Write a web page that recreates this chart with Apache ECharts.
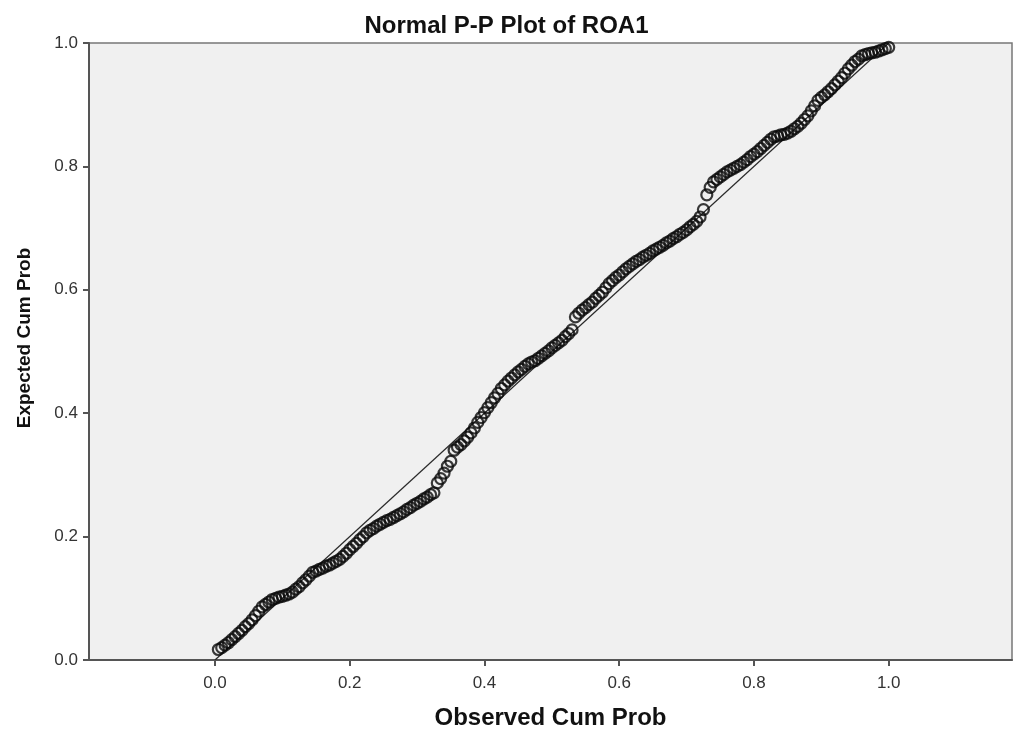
<!DOCTYPE html>
<html>
<head>
<meta charset="utf-8">
<script src="https://cdn.jsdelivr.net/npm/echarts@6/dist/echarts.min.js"></script>
<style>
html,body{margin:0;padding:0;background:#fff;}
#c{width:1013px;height:735px;}
</style>
</head>
<body>
<div id="c"></div>
<script>
var titleText = "Normal P-P Plot of ROA1";
var xName = "Observed Cum Prob";
var yName = "Expected Cum Prob";
var tickValues = [0, 0.2, 0.4, 0.6, 0.8, 1.0];

var observed = [
0.005,0.010,0.015,0.020,0.025,0.030,0.035,0.040,0.045,0.050,
0.055,0.060,0.065,0.070,0.075,0.080,0.085,0.090,0.095,0.100,
0.105,0.110,0.115,0.120,0.125,0.130,0.135,0.140,0.145,0.150,
0.155,0.160,0.165,0.170,0.175,0.180,0.185,0.190,0.195,0.200,
0.205,0.210,0.215,0.220,0.225,0.230,0.235,0.240,0.245,0.250,
0.255,0.260,0.265,0.270,0.275,0.280,0.285,0.290,0.295,0.300,
0.305,0.310,0.315,0.320,0.325,0.330,0.335,0.340,0.345,0.350,
0.355,0.360,0.365,0.370,0.375,0.380,0.385,0.390,0.395,0.400,
0.405,0.410,0.415,0.420,0.425,0.430,0.435,0.440,0.445,0.450,
0.455,0.460,0.465,0.470,0.475,0.480,0.485,0.490,0.495,0.500,
0.505,0.510,0.515,0.520,0.525,0.530,0.535,0.540,0.545,0.550,
0.555,0.560,0.565,0.570,0.575,0.580,0.585,0.590,0.595,0.600,
0.605,0.610,0.615,0.620,0.625,0.630,0.635,0.640,0.645,0.650,
0.655,0.660,0.665,0.670,0.675,0.680,0.685,0.690,0.695,0.700,
0.705,0.710,0.715,0.720,0.725,0.730,0.735,0.740,0.745,0.750,
0.755,0.760,0.765,0.770,0.775,0.780,0.785,0.790,0.795,0.800,
0.805,0.810,0.815,0.820,0.825,0.830,0.835,0.840,0.845,0.850,
0.855,0.860,0.865,0.870,0.875,0.880,0.885,0.890,0.895,0.900,
0.905,0.910,0.915,0.920,0.925,0.930,0.935,0.940,0.945,0.950,
0.955,0.960,0.965,0.970,0.975,0.980,0.985,0.990,0.995,1.000
];

var expected = [
0.017,0.020,0.024,0.028,0.033,0.038,0.043,0.048,0.054,0.059,
0.065,0.072,0.079,0.086,0.090,0.094,0.098,0.100,0.102,0.103,
0.105,0.107,0.110,0.115,0.119,0.125,0.130,0.136,0.142,0.144,
0.147,0.149,0.152,0.154,0.157,0.160,0.163,0.168,0.173,0.179,
0.184,0.189,0.195,0.200,0.206,0.210,0.213,0.217,0.220,0.223,
0.226,0.228,0.231,0.234,0.237,0.240,0.244,0.247,0.251,0.254,
0.257,0.261,0.264,0.268,0.271,0.287,0.294,0.303,0.314,0.322,
0.340,0.345,0.349,0.355,0.361,0.368,0.376,0.385,0.393,0.401,
0.409,0.417,0.425,0.432,0.440,0.446,0.452,0.457,0.462,0.467,
0.471,0.476,0.480,0.483,0.485,0.489,0.493,0.497,0.501,0.506,
0.510,0.514,0.518,0.524,0.529,0.535,0.556,0.562,0.567,0.571,
0.576,0.580,0.586,0.591,0.596,0.603,0.610,0.615,0.620,0.624,
0.629,0.634,0.638,0.642,0.646,0.649,0.653,0.656,0.659,0.663,
0.666,0.669,0.672,0.676,0.679,0.683,0.686,0.690,0.693,0.697,
0.702,0.706,0.711,0.718,0.730,0.754,0.766,0.775,0.779,0.783,
0.787,0.791,0.794,0.797,0.800,0.803,0.807,0.811,0.816,0.820,
0.824,0.829,0.834,0.839,0.844,0.848,0.849,0.851,0.852,0.854,
0.857,0.861,0.865,0.870,0.876,0.882,0.890,0.898,0.907,0.912,
0.916,0.921,0.926,0.932,0.938,0.944,0.951,0.958,0.964,0.970,
0.974,0.979,0.981,0.983,0.984,0.985,0.987,0.989,0.991,0.993
];

var refLineX = [0, 1];
var refLineY = [0, 1];

var points = observed.map(function (v, i) { return [v, expected[i]]; });
var refLine = refLineX.map(function (v, i) { return [v, refLineY[i]]; });

var chart = echarts.init(document.getElementById('c'), null, {renderer: 'canvas'});
var fontFam = '"Liberation Sans", Arial, sans-serif';
var axisColor = '#555555';

chart.setOption({
  backgroundColor: '#ffffff',
  animation: false,
  title: {
    text: titleText,
    left: 'center',
    top: 9,
    textStyle: {fontFamily: fontFam, fontSize: 24, fontWeight: 'bold', color: '#111111'}
  },
  grid: {
    left: 89, right: 1, top: 43, bottom: 74,
    show: true,
    backgroundColor: '#f0f0f0',
    borderColor: '#777777',
    borderWidth: 1.5
  },
  xAxis: {
    type: 'value',
    min: -0.187,
    max: 1.183,
    name: xName,
    nameLocation: 'middle',
    nameGap: 46,
    nameTextStyle: {fontFamily: fontFam, fontSize: 24, fontWeight: 'bold', color: '#111111'},
    axisLine: {onZero: false, lineStyle: {color: axisColor, width: 2}},
    axisTick: {show: true, length: 6, customValues: tickValues, lineStyle: {color: axisColor, width: 2}},
    axisLabel: {
      customValues: tickValues,
      margin: 15,
      fontFamily: fontFam, fontSize: 17, color: '#333333',
      formatter: function (v) { return Number(v).toFixed(1); }
    },
    splitLine: {show: false}
  },
  yAxis: {
    type: 'value',
    min: 0,
    max: 1,
    interval: 0.2,
    axisLine: {onZero: false, lineStyle: {color: axisColor, width: 2}},
    axisTick: {show: true, length: 6, lineStyle: {color: axisColor, width: 2}},
    axisLabel: {
      margin: 11,
      fontFamily: fontFam, fontSize: 17, color: '#333333',
      formatter: function (v) { return Number(v).toFixed(1); }
    },
    splitLine: {show: false}
  },
  graphic: [{
    type: 'text',
    x: 25,
    y: 338,
    rotation: Math.PI / 2,
    style: {
      text: yName,
      fontFamily: fontFam,
      fontSize: 19,
      fontWeight: 'bold',
      fill: '#111111',
      align: 'center',
      verticalAlign: 'middle'
    }
  }],
  series: [
    {
      type: 'line',
      data: refLine,
      symbol: 'none',
      lineStyle: {color: '#2a2a2a', width: 1.2},
      z: 2
    },
    {
      type: 'scatter',
      data: points,
      symbol: 'circle',
      symbolSize: 11,
      itemStyle: {color: 'rgba(0,0,0,0)', borderColor: '#0a0a0a', borderWidth: 2.2},
      emphasis: {disabled: true},
      z: 3
    }
  ]
});
</script>
</body>
</html>
